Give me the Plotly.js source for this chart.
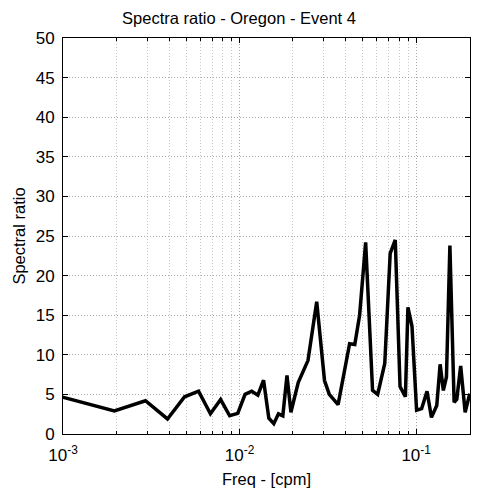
<!DOCTYPE html>
<html>
<head>
<meta charset="utf-8">
<script src="https://cdn.plot.ly/plotly-3.0.1.min.js"></script>
<style>html,body{margin:0;padding:0;background:#fff;}#chart{width:478px;height:495px;}</style>
</head>
<body>
<div id="chart"></div>
<script>
var freq = [0.000977,0.001953,0.00293,0.003906,0.004883,0.005859,0.006836,0.007813,0.008789,0.009766,
  0.010742,0.011719,0.012695,0.013672,0.014648,0.015625,0.016602,0.017578,0.018555,0.019531,
  0.021484,0.024414,0.027344,0.030273,0.032227,0.036133,0.041992,0.044922,0.047852,0.051758,
  0.056641,0.060547,0.066406,0.071289,0.076172,0.081055,0.086914,0.089844,0.094727,0.100586,
  0.107422,0.115234,0.12207,0.130859,0.136719,0.142578,0.148438,0.155273,0.164063,0.169922,
  0.178711,0.189453,0.201172];
var ratio = [4.7,2.9,4.2,1.9,4.7,5.4,2.55,4.35,2.3,2.6,
  5.0,5.4,4.9,6.8,2.0,1.3,2.55,2.3,7.4,2.75,
  6.5,9.3,16.7,6.75,5.0,3.7,11.4,11.3,15.0,24.2,
  5.5,5.0,8.9,22.8,24.5,6.0,4.7,16.0,13.6,3.0,
  3.2,5.4,2.1,3.6,8.8,5.5,7.2,23.8,4.0,4.4,
  8.6,2.75,5.1];
var xTickVals = [0.001, 0.01, 0.1];
var xTickText = ['10<sup>-3</sup>', '10<sup>-2</sup>', '10<sup>-1</sup>'];
var xMinorVals = [0.002,0.003,0.004,0.005,0.006,0.007,0.008,0.009,
  0.02,0.03,0.04,0.05,0.06,0.07,0.08,0.09,0.2];
var yTickVals = [0,5,10,15,20,25,30,35,40,45,50];

var font = {family: 'Liberation Sans, Arial, sans-serif', size: 16.5, color: '#000'};
var tickFont = {family: 'Liberation Sans, Arial, sans-serif', size: 17, color: '#000'};
var trace = {
  x: freq, y: ratio, type: 'scatter', mode: 'lines',
  line: {color: '#000', width: 3.5},
  hoverinfo: 'skip'
};
var layout = {
  width: 478, height: 495,
  margin: {l: 63, r: 8, t: 38, b: 61},
  paper_bgcolor: '#fff', plot_bgcolor: '#fff',
  font: font,
  showlegend: false,
  title: {text: 'Spectra ratio - Oregon - Event 4', font: font, x: 0.5, xanchor: 'center', y: 0.963, yanchor: 'middle'},
  xaxis: {
    type: 'log', range: [-3, -0.695],
    tickmode: 'array', tickvals: xTickVals, ticktext: xTickText,
    ticks: 'inside', ticklen: 5, tickcolor: '#000',
    showline: true, linecolor: '#000', linewidth: 1, mirror: 'ticks',
    showgrid: true, gridcolor: '#a8a8a8', griddash: '1px,2px', gridwidth: 1,
    zeroline: false,
    tickfont: tickFont,
    ticklabelstandoff: 6,
    minor: {tickvals: xMinorVals, ticks: 'inside', ticklen: 3, tickcolor: '#000',
            showgrid: true, gridcolor: '#c4c4c4', griddash: '1px,2px', gridwidth: 1},
    title: {text: 'Freq - [cpm]', font: font, standoff: 9}
  },
  yaxis: {
    range: [0, 50],
    tickmode: 'array', tickvals: yTickVals,
    ticks: 'inside', ticklen: 5, tickcolor: '#000',
    showline: true, linecolor: '#000', linewidth: 1, mirror: 'ticks',
    showgrid: true, gridcolor: '#a8a8a8', griddash: '1px,2px', gridwidth: 1,
    zeroline: false,
    tickfont: tickFont,
    ticklabelstandoff: 4,
    title: {text: 'Spectral ratio', font: font, standoff: 5}
  }
};
Plotly.newPlot('chart', [trace], layout, {staticPlot: true, displayModeBar: false});
</script>
</body>
</html>
